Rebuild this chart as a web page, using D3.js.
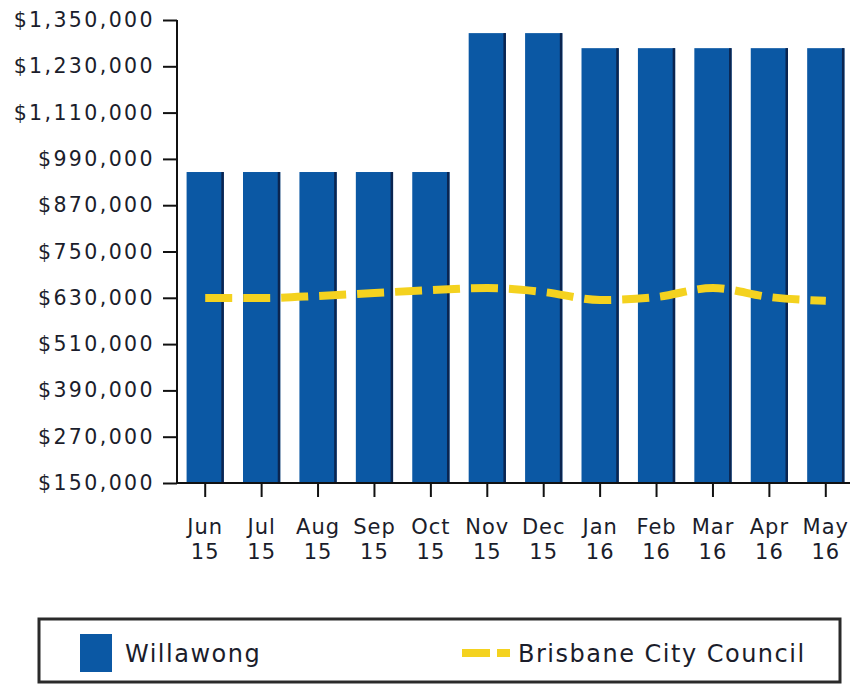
<!DOCTYPE html>
<html lang="en">
<head>
    <meta charset="UTF-8">
    <title>Willawong vs Brisbane City Council</title>
    <style>
        body { margin: 0; background: #fff; font-family: "DejaVu Sans", Verdana, sans-serif; }
        .tick text { fill: #1b1d2b; }
        .domain, .tick line { stroke: #111; }
    </style>
    <script src="https://d3js.org/d3.v7.min.js"></script>
</head>
<body>
    <svg width="856" height="684"></svg>
    <script>
        var months = ["Jun", "Jul", "Aug", "Sep", "Oct", "Nov", "Dec", "Jan", "Feb", "Mar", "Apr", "May"];
        var years = ["15", "15", "15", "15", "15", "15", "15", "16", "16", "16", "16", "16"];
        var willawong = [956000, 956000, 956000, 956000, 956000, 1316000, 1316000, 1277000, 1277000, 1277000, 1277000, 1277000];
        var brisbane = [629500, 629500, 634700, 642400, 650200, 655400, 645000, 624300, 632000, 655400, 632000, 622000];
        var yTicks = [150000, 270000, 390000, 510000, 630000, 750000, 870000, 990000, 1110000, 1230000, 1350000];

        var margin = { top: 20, left: 177, right: 2, bottom: 201 },
            width = 856 - margin.left - margin.right,
            height = 684 - margin.top - margin.bottom;

        var svg = d3.select("svg")
          .append("g")
            .attr("transform", "translate(" + margin.left + "," + margin.top + ")");

        var x = d3.scaleBand().domain(d3.range(months.length)).range([0, width]).paddingInner(0.34).paddingOuter(0.17);
        var y = d3.scaleLinear().domain([150000, 1350000]).range([height, 0]);

        // bars, with the dark right edge
        var bars = svg.selectAll("g.bar").data(willawong).enter().append("g").attr("class", "bar");
        bars.append("rect")
            .attr("x", function(d, i) { return x(i); })
            .attr("y", function(d) { return y(d); })
            .attr("width", x.bandwidth())
            .attr("height", function(d) { return height - y(d); })
            .attr("fill", "#0b58a4");
        bars.append("rect")
            .attr("x", function(d, i) { return x(i) + x.bandwidth() - 2.5; })
            .attr("y", function(d) { return y(d); })
            .attr("width", 2.5)
            .attr("height", function(d) { return height - y(d); })
            .attr("fill", "#0b2550");

        // council line
        var line = d3.line()
            .x(function(d, i) { return x(i) + x.bandwidth() / 2; })
            .y(function(d) { return y(d); })
            .curve(d3.curveMonotoneX);

        svg.append("path")
            .datum(brisbane)
            .attr("d", line)
            .attr("fill", "none")
            .attr("stroke", "#f4d21f")
            .attr("stroke-width", 8)
            .attr("stroke-dasharray", "27,11");

        // y axis
        var yAxis = svg.append("g")
            .call(d3.axisLeft(y).tickValues(yTicks).tickSize(14).tickPadding(8)
                .tickFormat(function(d) { return "$" + d3.format(",")(d); }));
        yAxis.select(".domain").attr("stroke-width", 2).attr("d", "M0,0V" + height);
        yAxis.selectAll(".tick line").attr("stroke-width", 2);
        yAxis.selectAll(".tick text").attr("font-size", 20.5).attr("letter-spacing", 2.4)
            .attr("font-family", "DejaVu Sans");

        // x axis
        var xAxis = svg.append("g")
            .attr("transform", "translate(0," + height + ")")
            .call(d3.axisBottom(x).tickSize(14).tickFormat(""));
        xAxis.select(".domain").attr("stroke-width", 2).attr("d", "M0,0H" + (width - 4));
        xAxis.selectAll(".tick line").attr("stroke-width", 2);
        var xt = xAxis.selectAll(".tick").append("text")
            .attr("text-anchor", "middle")
            .attr("font-size", 21)
            .attr("font-family", "DejaVu Sans")
            .attr("letter-spacing", 1);
        xt.append("tspan").attr("x", 0).attr("y", 51).text(function(d) { return months[d]; });
        xt.append("tspan").attr("x", 0).attr("y", 76).text(function(d) { return years[d]; });

        // legend
        var lg = d3.select("svg").append("g").attr("transform", "translate(39,619)");
        lg.append("rect").attr("width", 801).attr("height", 63)
            .attr("fill", "#fff").attr("stroke", "#2a2a2a").attr("stroke-width", 3);
        lg.append("rect").attr("x", 41).attr("y", 15).attr("width", 32).attr("height", 38).attr("fill", "#0b58a4");
        lg.append("text").attr("x", 86).attr("y", 43).attr("font-size", 24).attr("letter-spacing", 1.5)
            .attr("fill", "#1b1d2b").text("Willawong");
        lg.append("line").attr("x1", 423).attr("x2", 471).attr("y1", 34).attr("y2", 34)
            .attr("stroke", "#f4d21f").attr("stroke-width", 8).attr("stroke-dasharray", "28,7");
        lg.append("text").attr("x", 479).attr("y", 43).attr("font-size", 24).attr("letter-spacing", 1.5)
            .attr("fill", "#1b1d2b").text("Brisbane City Council");
    </script>
</body>
</html>
